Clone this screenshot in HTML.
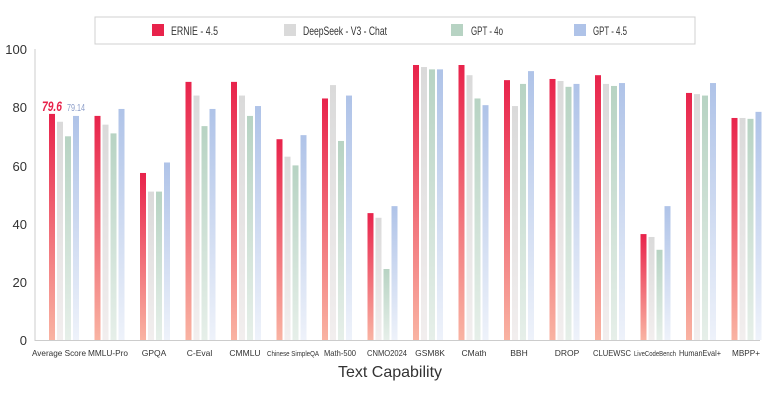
<!DOCTYPE html>
<html><head><meta charset="utf-8"><style>
body{margin:0;background:#fff;}
svg{display:block;font-family:"Liberation Sans",sans-serif;}
</style></head><body>
<svg width="780" height="403" viewBox="0 0 780 403" xmlns="http://www.w3.org/2000/svg">
<defs>
<linearGradient id="gr" x1="0" y1="0" x2="0" y2="1"><stop offset="0" stop-color="#e8234b"/><stop offset="1" stop-color="#f9b3a2"/></linearGradient>
<linearGradient id="gg" x1="0" y1="0" x2="0" y2="1"><stop offset="0" stop-color="#dadada"/><stop offset="1" stop-color="#f2eeee"/></linearGradient>
<linearGradient id="gn" x1="0" y1="0" x2="0" y2="1"><stop offset="0" stop-color="#b7d3c3"/><stop offset="1" stop-color="#e6efe9"/></linearGradient>
<linearGradient id="gb" x1="0" y1="0" x2="0" y2="1"><stop offset="0" stop-color="#afc3e8"/><stop offset="1" stop-color="#eef2fa"/></linearGradient>
</defs>
<rect x="95" y="17" width="600" height="27" fill="#fff" stroke="#d0d0d0"/>
<rect x="152" y="24" width="12" height="12" fill="#e8234b"/><text x="171" y="35" font-size="12" fill="#333" textLength="47" lengthAdjust="spacingAndGlyphs">ERNIE - 4.5</text>
<rect x="284" y="24" width="12" height="12" fill="#dadada"/><text x="303" y="35" font-size="12" fill="#333" textLength="84" lengthAdjust="spacingAndGlyphs">DeepSeek - V3 - Chat</text>
<rect x="451" y="24" width="12" height="12" fill="#b7d3c3"/><text x="471" y="35" font-size="12" fill="#333" textLength="32" lengthAdjust="spacingAndGlyphs">GPT - 4o</text>
<rect x="574" y="24" width="12" height="12" fill="#afc3e8"/><text x="593" y="35" font-size="12" fill="#333" textLength="34" lengthAdjust="spacingAndGlyphs">GPT - 4.5</text>
<line x1="35" y1="49" x2="35" y2="341" stroke="#ccc"/>
<line x1="35" y1="340.5" x2="760" y2="340.5" stroke="#ccc"/>
<g font-size="13" fill="#333" text-anchor="end">
<text x="27" y="345">0</text><text x="27" y="287">20</text><text x="27" y="229">40</text><text x="27" y="171">60</text><text x="27" y="112">80</text><text x="27" y="54">100</text>
</g>
<g>
<rect x="49" y="113.9" width="6" height="226.1" fill="url(#gr)"/><rect x="57" y="121.75" width="6" height="218.25" fill="url(#gg)"/><rect x="65" y="136.3" width="6" height="203.7" fill="url(#gn)"/><rect x="73" y="115.93" width="6" height="224.07" fill="url(#gb)"/>
<rect x="94.5" y="115.9" width="6" height="224.1" fill="url(#gr)"/><rect x="102.5" y="124.66" width="6" height="215.34" fill="url(#gg)"/><rect x="110.5" y="133.39" width="6" height="206.61" fill="url(#gn)"/><rect x="118.5" y="108.95" width="6" height="231.05" fill="url(#gb)"/>
<rect x="140" y="172.97" width="6" height="167.03" fill="url(#gr)"/><rect x="148" y="191.59" width="6" height="148.41" fill="url(#gg)"/><rect x="156" y="191.59" width="6" height="148.41" fill="url(#gn)"/><rect x="164" y="162.49" width="6" height="177.51" fill="url(#gb)"/>
<rect x="185.5" y="81.88" width="6" height="258.12" fill="url(#gr)"/><rect x="193.5" y="95.56" width="6" height="244.44" fill="url(#gg)"/><rect x="201.5" y="126.11" width="6" height="213.89" fill="url(#gn)"/><rect x="209.5" y="108.95" width="6" height="231.05" fill="url(#gb)"/>
<rect x="231" y="81.88" width="6" height="258.12" fill="url(#gr)"/><rect x="239" y="95.56" width="6" height="244.44" fill="url(#gg)"/><rect x="247" y="115.93" width="6" height="224.07" fill="url(#gn)"/><rect x="255" y="106.04" width="6" height="233.96" fill="url(#gb)"/>
<rect x="276.5" y="139.21" width="6" height="200.79" fill="url(#gr)"/><rect x="284.5" y="156.67" width="6" height="183.33" fill="url(#gg)"/><rect x="292.5" y="165.4" width="6" height="174.6" fill="url(#gn)"/><rect x="300.5" y="135.14" width="6" height="204.86" fill="url(#gb)"/>
<rect x="322" y="98.47" width="6" height="241.53" fill="url(#gr)"/><rect x="330" y="85.08" width="6" height="254.92" fill="url(#gg)"/><rect x="338" y="140.96" width="6" height="199.04" fill="url(#gn)"/><rect x="346" y="95.56" width="6" height="244.44" fill="url(#gb)"/>
<rect x="367.5" y="213.12" width="6" height="126.88" fill="url(#gr)"/><rect x="375.5" y="217.78" width="6" height="122.22" fill="url(#gg)"/><rect x="383.5" y="269" width="6" height="71" fill="url(#gn)"/><rect x="391.5" y="206.14" width="6" height="133.86" fill="url(#gb)"/>
<rect x="413" y="65" width="6" height="275" fill="url(#gr)"/><rect x="421" y="67.04" width="6" height="272.96" fill="url(#gg)"/><rect x="429" y="69.37" width="6" height="270.63" fill="url(#gn)"/><rect x="437" y="69.37" width="6" height="270.63" fill="url(#gb)"/>
<rect x="458.5" y="65" width="6" height="275" fill="url(#gr)"/><rect x="466.5" y="75.19" width="6" height="264.81" fill="url(#gg)"/><rect x="474.5" y="98.47" width="6" height="241.53" fill="url(#gn)"/><rect x="482.5" y="105.16" width="6" height="234.84" fill="url(#gb)"/>
<rect x="504" y="80.14" width="6" height="259.86" fill="url(#gr)"/><rect x="512" y="106.04" width="6" height="233.96" fill="url(#gg)"/><rect x="520" y="83.92" width="6" height="256.08" fill="url(#gn)"/><rect x="528" y="71.12" width="6" height="268.88" fill="url(#gb)"/>
<rect x="549.5" y="78.97" width="6" height="261.03" fill="url(#gr)"/><rect x="557.5" y="81.01" width="6" height="258.99" fill="url(#gg)"/><rect x="565.5" y="86.83" width="6" height="253.17" fill="url(#gn)"/><rect x="573.5" y="83.92" width="6" height="256.08" fill="url(#gb)"/>
<rect x="595" y="75.19" width="6" height="264.81" fill="url(#gr)"/><rect x="603" y="83.92" width="6" height="256.08" fill="url(#gg)"/><rect x="611" y="85.96" width="6" height="254.04" fill="url(#gn)"/><rect x="619" y="83.05" width="6" height="256.95" fill="url(#gb)"/>
<rect x="640.5" y="234.08" width="6" height="105.92" fill="url(#gr)"/><rect x="648.5" y="236.99" width="6" height="103.01" fill="url(#gg)"/><rect x="656.5" y="249.79" width="6" height="90.21" fill="url(#gn)"/><rect x="664.5" y="206.14" width="6" height="133.86" fill="url(#gb)"/>
<rect x="686" y="92.94" width="6" height="247.06" fill="url(#gr)"/><rect x="694" y="94.1" width="6" height="245.9" fill="url(#gg)"/><rect x="702" y="95.56" width="6" height="244.44" fill="url(#gn)"/><rect x="710" y="83.05" width="6" height="256.95" fill="url(#gb)"/>
<rect x="731.5" y="117.97" width="6" height="222.03" fill="url(#gr)"/><rect x="739.5" y="117.97" width="6" height="222.03" fill="url(#gg)"/><rect x="747.5" y="118.84" width="6" height="221.16" fill="url(#gn)"/><rect x="755.5" y="111.86" width="6" height="228.14" fill="url(#gb)"/>
</g>
<text x="42" y="111" font-size="14" font-weight="bold" font-style="italic" fill="#e8234b" textLength="20" lengthAdjust="spacingAndGlyphs">79.6</text>
<text x="67" y="111" font-size="10" fill="#8a9cc8" textLength="18" lengthAdjust="spacingAndGlyphs">79.14</text>
<g font-size="8.5" fill="#333" text-anchor="middle" lengthAdjust="spacingAndGlyphs">
<text x="59" y="356" textLength="54" lengthAdjust="spacingAndGlyphs">Average Score</text>
<text x="108" y="356" textLength="40" lengthAdjust="spacingAndGlyphs">MMLU-Pro</text>
<text x="154" y="356">GPQA</text>
<text x="199.5" y="356">C-Eval</text>
<text x="245" y="356">CMMLU</text>
<text x="293" y="356" textLength="52" lengthAdjust="spacingAndGlyphs" font-size="7">Chinese SimpleQA</text>
<text x="340" y="356" textLength="32" lengthAdjust="spacingAndGlyphs">Math-500</text>
<text x="387" y="356" textLength="40" lengthAdjust="spacingAndGlyphs">CNMO2024</text>
<text x="430" y="356">GSM8K</text>
<text x="474" y="356">CMath</text>
<text x="519" y="356">BBH</text>
<text x="567" y="356">DROP</text>
<text x="612" y="356" textLength="38" lengthAdjust="spacingAndGlyphs">CLUEWSC</text>
<text x="655" y="356" textLength="42" lengthAdjust="spacingAndGlyphs" font-size="7">LiveCodeBench</text>
<text x="700" y="356" textLength="42" lengthAdjust="spacingAndGlyphs">HumanEval+</text>
<text x="746" y="356" textLength="28" lengthAdjust="spacingAndGlyphs">MBPP+</text>
</g>
<text x="390" y="377" font-size="16" fill="#333" text-anchor="middle">Text Capability</text>
</svg>
</body></html>
